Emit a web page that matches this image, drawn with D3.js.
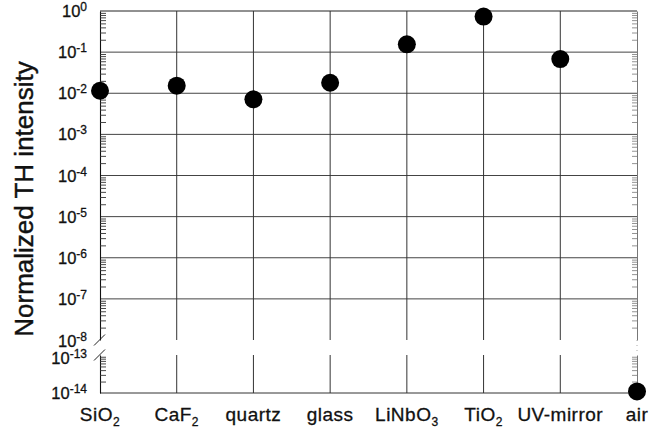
<!DOCTYPE html>
<html>
<head>
<meta charset="utf-8">
<script src="https://cdn.jsdelivr.net/npm/d3@7"></script>
<style>
  html, body { margin: 0; padding: 0; background: #fff; }
  svg { display: block; font-family: "Liberation Sans", Arial, Helvetica, sans-serif; }
</style>
</head>
<body>
<svg id="chart" width="661" height="435"></svg>
<script>
// Samples and their normalized third-harmonic intensity
const categories = ["SiO2", "CaF2", "quartz", "glass", "LiNbO3", "TiO2", "UV-mirror", "air"];
const intensity  = [1.15e-2, 1.53e-2, 7.1e-3, 1.8e-2, 0.155, 0.73, 0.068, 1.1e-14];

// Decade exponents labelled on the broken log axis
const upperExponents = [0, -1, -2, -3, -4, -5, -6, -7, -8];
const lowerExponents = [-13, -14];

const yTitle = "Normalized TH intensity";

const svg = d3.select("#chart");
const left = 100, right = 637;

const x = d3.scalePoint().domain(categories).range([left, right]);

// Two log segments separated by an axis break
const yUpper = d3.scaleLog().domain([1e-8, 1]).range([340, 11]);
const yLower = d3.scaleLog().domain([1e-14, 1e-13]).range([393, 355]);
const yOf = v => (v >= 1e-8 ? yUpper(v) : yLower(v));

const minorTicks = (lo, hi) => {
  const out = [];
  for (let e = lo; e < hi; e++) for (let k = 2; k <= 9; k++) out.push(k * Math.pow(10, e));
  return out;
};
const upperMinor = minorTicks(-8, 0);
const lowerMinor = minorTicks(-14, -13);

const grid = svg.append("g");

// Horizontal decade grid lines (upper segment)
grid.selectAll("line.h")
  .data(upperExponents.filter(e => e > -8).map(e => Math.pow(10, e)))
  .join("line")
  .attr("x1", left).attr("x2", right)
  .attr("y1", d => yUpper(d)).attr("y2", d => yUpper(d))
  .attr("stroke", d => d === 1 ? "#222" : "#444")
  .attr("stroke-width", 1);

// Bottom line of lower segment
grid.append("line")
  .attr("x1", left).attr("x2", right)
  .attr("y1", yLower(1e-14)).attr("y2", yLower(1e-14))
  .attr("stroke", "#333").attr("stroke-width", 1);

// Vertical grid lines at each sample, in both segments
[[yUpper, [1, 1e-8]], [yLower, [1e-13, 1e-14]]].forEach(([sc, dom]) => {
  grid.append("g").selectAll("line")
    .data(categories.slice(1, -1))
    .join("line")
    .attr("x1", d => x(d)).attr("x2", d => x(d))
    .attr("y1", sc(dom[0])).attr("y2", sc(dom[1]))
    .attr("stroke", "#333").attr("stroke-width", 1);
});

// Left axis with inward minor ticks
const axisStyle = g => {
  g.selectAll("path.domain").attr("stroke", "#111").attr("stroke-width", 1.1);
  g.selectAll(".tick line").attr("stroke", "#333").attr("stroke-width", 0.9);
};
svg.append("g").attr("transform", `translate(${left},0)`)
  .call(d3.axisLeft(yUpper).tickValues(upperMinor).tickSizeInner(-6).tickSizeOuter(0).tickFormat(""))
  .call(axisStyle);
svg.append("g").attr("transform", `translate(${left},0)`)
  .call(d3.axisLeft(yLower).tickValues(lowerMinor).tickSizeInner(-6).tickSizeOuter(0).tickFormat(""))
  .call(axisStyle);

// Right axis, lighter, with inward minor ticks
const rightStyle = g => {
  g.selectAll("path.domain").attr("stroke", "#777").attr("stroke-width", 1);
  g.selectAll(".tick line").attr("stroke", "#777").attr("stroke-width", 0.8);
};
svg.append("g").attr("transform", `translate(${right},0)`)
  .call(d3.axisRight(yUpper).tickValues(upperMinor).tickSizeInner(-5).tickSizeOuter(0).tickFormat(""))
  .call(rightStyle);
svg.append("g").attr("transform", `translate(${right},0)`)
  .call(d3.axisRight(yLower).tickValues(lowerMinor).tickSizeInner(-5).tickSizeOuter(0).tickFormat(""))
  .call(rightStyle);
// faint dotted bridge across the break on the right edge
svg.append("line")
  .attr("x1", right).attr("x2", right)
  .attr("y1", yUpper(1e-8)).attr("y2", yLower(1e-13))
  .attr("stroke", "#aaa").attr("stroke-width", 1).attr("stroke-dasharray", "1,4");

// Axis break marks
[yUpper(1e-8), yLower(1e-13)].forEach(yy => {
  svg.append("line")
    .attr("x1", left - 6).attr("x2", left + 5)
    .attr("y1", yy + 5.5).attr("y2", yy - 5.5)
    .attr("stroke", "#222").attr("stroke-width", 1);
});

// Decade labels as 10 with superscript exponent
const tickLabels = svg.append("g")
  .attr("fill", "#111").attr("stroke", "#111").attr("stroke-width", 0.3);
const drawPow = (e, yy) => {
  const t = tickLabels.append("text")
    .attr("x", 87).attr("y", yy + 6)
    .attr("text-anchor", "end")
    .attr("font-size", 16.5);
  t.append("tspan").text("10");
  t.append("tspan").attr("font-size", 12).attr("dy", -6).text(e === 0 ? "0" : "-" + Math.abs(e));
};
upperExponents.forEach(e => drawPow(e, yUpper(Math.pow(10, e)) + (e === -8 ? 0.5 : 0)));
lowerExponents.forEach(e => drawPow(e, yLower(Math.pow(10, e)) + (e === -13 ? 2.5 : 0)));

// Category labels with chemical subscripts
const xLabels = svg.append("g")
  .attr("fill", "#111").attr("stroke", "#111").attr("stroke-width", 0.3);
categories.forEach(c => {
  const t = xLabels.append("text")
    .attr("x", x(c)).attr("y", 421)
    .attr("text-anchor", "middle")
    .attr("font-size", 19)
    .attr("letter-spacing", 0.5);
  let lift = 0;
  c.split(/(\d+)/).filter(s => s.length).forEach(part => {
    if (/^\d+$/.test(part)) {
      t.append("tspan").attr("font-size", 12).attr("dy", 5).text(part);
      lift = -5;
    } else {
      t.append("tspan").attr("dy", lift).text(part);
      lift = 0;
    }
  });
});

// Y axis title
svg.append("text")
  .attr("transform", "translate(33,199) rotate(-90)")
  .attr("text-anchor", "middle")
  .attr("font-size", 26)
  .attr("fill", "#111").attr("stroke", "#111").attr("stroke-width", 0.4)
  .text(yTitle);

// Data points
svg.append("g").selectAll("circle")
  .data(categories.map((c, i) => ({ c, v: intensity[i] })))
  .join("circle")
  .attr("cx", d => x(d.c))
  .attr("cy", d => yOf(d.v))
  .attr("r", 9)
  .attr("fill", "#000");
</script>
</body>
</html>
